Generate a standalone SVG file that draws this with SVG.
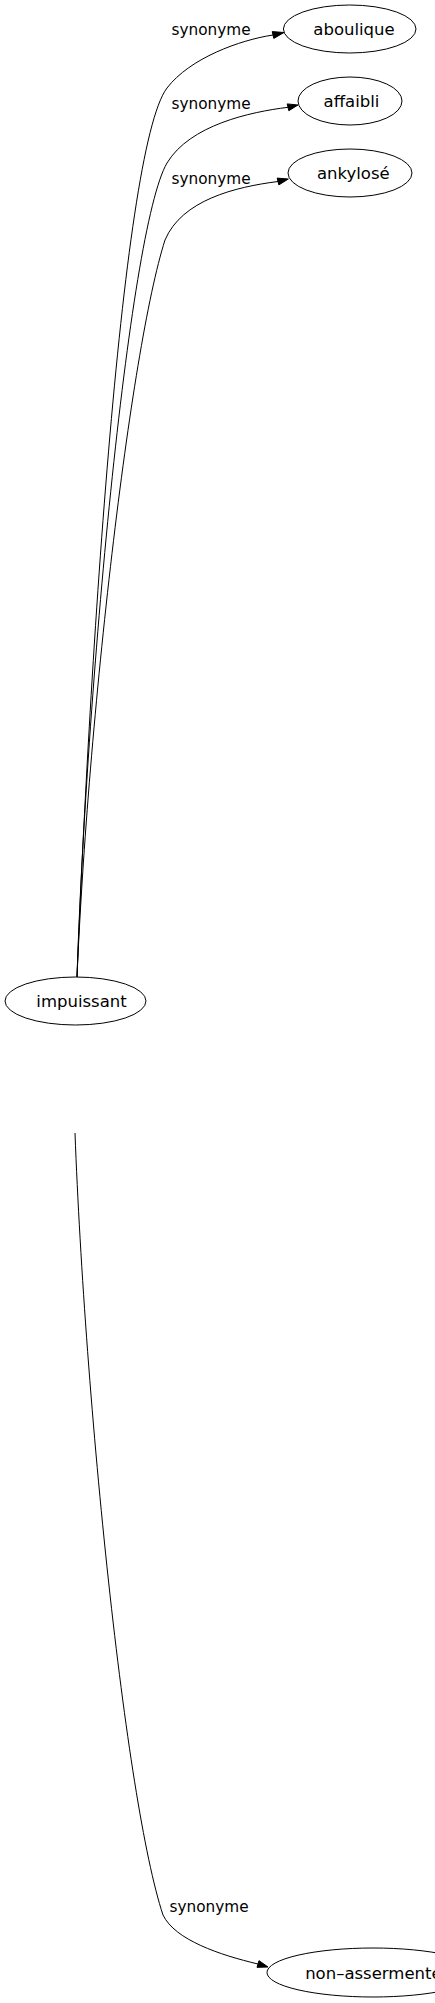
<svg xmlns="http://www.w3.org/2000/svg" width="435" height="2003" viewBox="0 0 435 2003">
<style>
text{font-family:"DejaVu Sans","Liberation Sans",sans-serif;fill:#000;text-anchor:middle}
.n text{font-size:16.5px}
.e text{font-size:15.3px}
ellipse{fill:#fff;stroke:#000;stroke-width:1}
.e path{fill:none;stroke:#000;stroke-width:1}
.e polygon{fill:#000;stroke:#000;stroke-width:1}
</style>
<rect width="435" height="2003" fill="#fff"/>
<g id="edges" class="e">
<path d="M77,977 C88,700 120,150 167,88 C190,58 240,40 273,35"/>
<polygon points="284,32.5 273.8,38.4 272.2,31.6"/>
<text x="211" y="35">synonyme</text>
<path d="M77,977 C86,700 128,230 167,163 C190,125 250,112 288,107.3"/>
<polygon points="298,105 288.8,110.7 287.2,103.9"/>
<text x="211" y="108.5">synonyme</text>
<path d="M77,977 C88,720 130,350 165,240 C182,200 235,187 278,181.5"/>
<polygon points="288.3,179 278.85,184.9 277.15,178.1"/>
<text x="211" y="183.5">synonyme</text>
<path d="M75,1133 C85,1400 125,1800 163,1915 C175,1940 220,1955 258,1964"/>
<polygon points="268,1967 257,1967.35 259,1960.65"/>
<text x="209" y="1912">synonyme</text>
</g>
<g id="impuissant" class="n">
<ellipse cx="75.5" cy="1001" rx="70.5" ry="24"/>
<text x="81.5" y="1007">impuissant</text>
</g>
<g id="aboulique" class="n">
<ellipse cx="349.7" cy="29" rx="66.3" ry="24"/>
<text x="354" y="35">aboulique</text>
</g>
<g id="affaibli" class="n">
<ellipse cx="350" cy="101" rx="52" ry="24"/>
<text x="351.5" y="107">affaibli</text>
</g>
<g id="ankylose" class="n">
<ellipse cx="350" cy="173" rx="62" ry="24"/>
<text x="353.3" y="179">ankylosé</text>
</g>
<g id="non-assermente" class="n">
<ellipse cx="373" cy="1972.5" rx="106" ry="24.5"/>
<text x="373.4" y="1979">non–assermenté</text>
</g>
</svg>
